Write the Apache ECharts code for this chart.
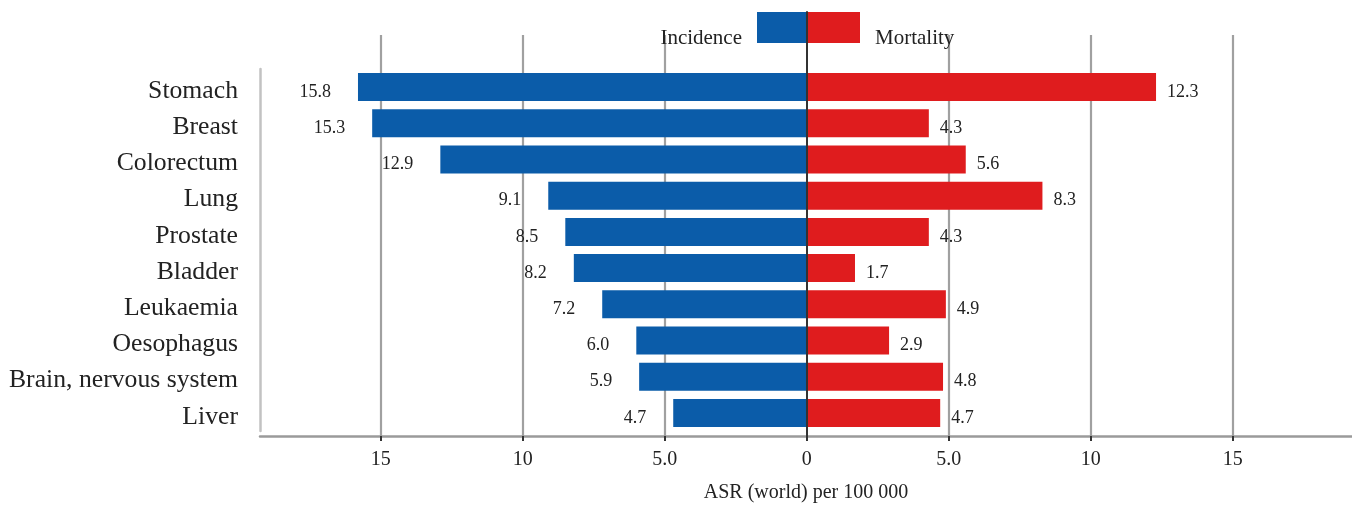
<!DOCTYPE html>
<html>
<head>
<meta charset="utf-8">
<script src="https://cdn.jsdelivr.net/npm/echarts@6/dist/echarts.min.js"></script>
<style>
  html, body { margin: 0; padding: 0; background: #fff; }
  #chart { width: 1352px; height: 508px; }
</style>
</head>
<body>
<div id="chart"></div>
<script>
// Cancer sites, ordered top to bottom
const categories = ['Stomach', 'Breast', 'Colorectum', 'Lung', 'Prostate', 'Bladder',
  'Leukaemia', 'Oesophagus', 'Brain, nervous system', 'Liver'];
// Age-standardised rates (world) per 100 000
const incidence = [15.8, 15.3, 12.9, 9.1, 8.5, 8.2, 7.2, 6.0, 5.9, 4.7];
const mortality = [12.3, 4.3, 5.6, 8.3, 4.3, 1.7, 4.9, 2.9, 4.8, 4.7];
// Tick labels of the rate axis (both sides read as positive)
const tickValues = [-15, -10, -5, 0, 5, 10, 15];
const tickLabels = ['15', '10', '5.0', '0', '5.0', '10', '15'];

const SERIF = '"Liberation Serif", "DejaVu Serif", serif';
const TEXT = '#222';
const BLUE = '#0b5ca9';
const RED = '#df1c1e';
const GRID_GRAY = '#a0a0a0';
const X_MIN = -19.25, X_MAX = 19.2;

const chart = echarts.init(document.getElementById('chart'), null, { renderer: 'canvas' });

const hiddenX = (gridIndex) => ({
  type: 'value', gridIndex, min: X_MIN, max: X_MAX, show: false,
  splitLine: { show: false }
});

// key entries: text sits a little below the middle of the swatch
const keyText = (pad) => ({
  fontFamily: SERIF, fontSize: 21, color: TEXT,
  rich: { t: { fontFamily: SERIF, fontSize: 21, color: TEXT, padding: pad } }
});

chart.setOption({
  animation: false,
  backgroundColor: '#fff',
  textStyle: { fontFamily: SERIF },
  legend: [
    {
      data: ['Incidence'], right: 1352 - 807, top: 12, padding: 0,
      align: 'right', icon: 'rect', itemWidth: 50, itemHeight: 31,
      selectedMode: false,
      formatter: '{t|{name}}',
      textStyle: keyText([22, 10, 0, 0])
    },
    {
      data: ['Mortality'], left: 807, top: 12, padding: 0,
      align: 'left', icon: 'rect', itemWidth: 53, itemHeight: 31,
      selectedMode: false,
      formatter: '{t|{name}}',
      textStyle: keyText([22, 0, 0, 10])
    }
  ],
  grid: [
    // rate axis and its vertical grid lines
    { left: 260, right: 0, top: 35, bottom: 71 },
    // bars and site labels
    { left: 260, right: 0, top: 69, bottom: 77 },
    // zero line running up through the key
    { left: 260, right: 0, top: 12, bottom: 71 }
  ],
  xAxis: [
    {
      type: 'value', gridIndex: 0, min: X_MIN, max: X_MAX, splitNumber: 8,
      axisLine: { show: true, lineStyle: { color: '#9a9a9a', width: 2.5 } },
      axisTick: { show: true, length: 5, lineStyle: { color: '#333', width: 2 } },
      axisLabel: {
        show: true, margin: 14, fontFamily: SERIF, fontSize: 20, color: TEXT,
        showMinLabel: false, showMaxLabel: false,
        formatter: (v) => {
          const i = tickValues.findIndex(t => Math.abs(t - v) < 1e-6);
          return i < 0 ? '' : tickLabels[i];
        }
      },
      splitLine: {
        show: true,
        lineStyle: {
          width: 2.2,
          color: ['rgba(0,0,0,0)', GRID_GRAY, GRID_GRAY, GRID_GRAY, 'rgba(0,0,0,0)',
            GRID_GRAY, GRID_GRAY, GRID_GRAY, 'rgba(0,0,0,0)']
        }
      },
      name: 'ASR (world) per 100 000', nameLocation: 'middle', nameGap: 47,
      nameTextStyle: { fontFamily: SERIF, fontSize: 20, color: TEXT }
    },
    hiddenX(1),
    hiddenX(2)
  ],
  yAxis: [
    { type: 'value', gridIndex: 0, show: false, splitLine: { show: false } },
    {
      type: 'category', gridIndex: 1, data: categories, inverse: true,
      axisLine: { show: true, onZero: false, lineStyle: { color: '#c2c2c2', width: 2.5 } },
      axisTick: { show: false },
      splitLine: { show: false },
      axisLabel: {
        margin: 22, fontFamily: SERIF, fontSize: 25.7, color: TEXT,
        formatter: '{c|{value}}',
        rich: { c: { fontFamily: SERIF, fontSize: 25.7, color: TEXT, padding: [8, 0, 0, 0] } }
      }
    },
    {
      type: 'value', gridIndex: 2, min: 0, max: 1, z: 5,
      axisLine: { show: true, onZero: true, lineStyle: { color: '#333', width: 2 } },
      axisTick: { show: false }, axisLabel: { show: false }, splitLine: { show: false }
    }
  ],
  series: [
    {
      name: 'Incidence', type: 'bar', xAxisIndex: 1, yAxisIndex: 1,
      data: incidence.map(v => -v),
      barWidth: 28, barGap: '-100%',
      itemStyle: { color: BLUE },
      label: {
        show: true, position: 'left', distance: 27, align: 'right',
        offset: [0, 5],
        fontFamily: SERIF, fontSize: 18, color: TEXT,
        formatter: (p) => incidence[p.dataIndex].toFixed(1)
      }
    },
    {
      name: 'Mortality', type: 'bar', xAxisIndex: 1, yAxisIndex: 1,
      data: mortality,
      barWidth: 28, barGap: '-100%',
      itemStyle: { color: RED },
      label: {
        show: true, position: 'right', distance: 11,
        offset: [0, 5],
        fontFamily: SERIF, fontSize: 18, color: TEXT,
        formatter: (p) => mortality[p.dataIndex].toFixed(1)
      }
    }
  ]
});
</script>
</body>
</html>
